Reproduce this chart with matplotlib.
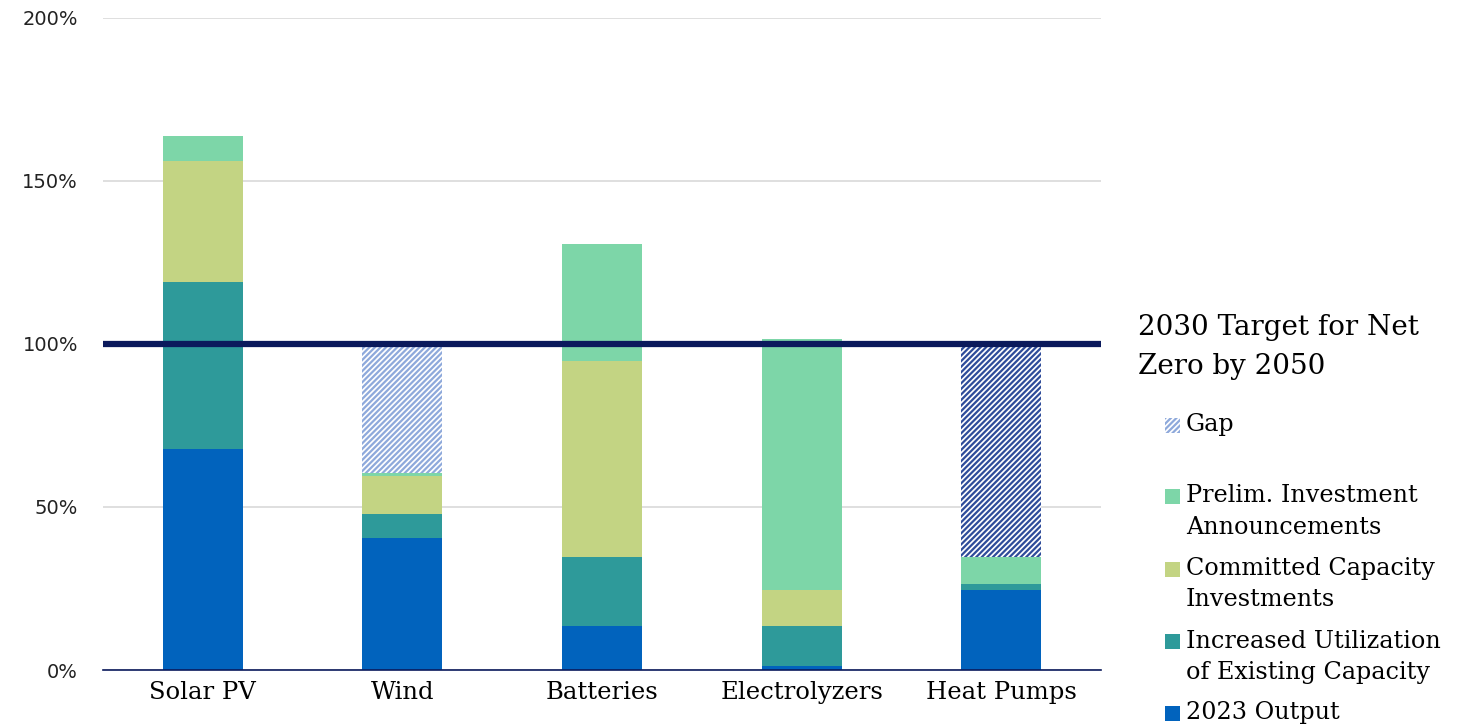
import numpy as np
import matplotlib
matplotlib.use("Agg")
import matplotlib.pyplot as plt
from matplotlib.patches import Rectangle

# data (% of 2030 net-zero target)
categories = ["Solar PV", "Wind", "Batteries", "Electrolyzers", "Heat Pumps"]
output_2023 = [67.8, 40.5, 13.5, 1.2, 24.5]
increased_util = [51.2, 7.4, 21.2, 12.3, 1.9]
committed = [37.0, 11.6, 60.1, 11.0, 0.0]
prelim = [7.8, 0.9, 35.9, 77.0, 8.3]
gap = [0.0, 39.6, 0.0, 0.0, 65.3]
gap_colors = ["#8EA9DB", "#8EA9DB", "#8EA9DB", "#8EA9DB", "#2E4C9A"]
target = 100
legend_title = ["2030 Target for Net", "Zero by 2050"]

c_out = "#0163BD"
c_util = "#2E9A9A"
c_comm = "#C3D483"
c_pre = "#7DD6A8"
navy = "#0B1A5C"
serif = "DejaVu Serif"

plt.rcParams["hatch.linewidth"] = 1.6

W, H = 1471, 728
fig = plt.figure(figsize=(W / 100, H / 100), dpi=100)
ax = fig.add_axes([103 / W, 58 / H, 998 / W, 652 / H])

x = np.arange(len(categories))
w = 0.4
b = np.zeros(len(categories))
ax.bar(x, output_2023, w, bottom=b, color=c_out, zorder=3)
b += output_2023
ax.bar(x, increased_util, w, bottom=b, color=c_util, zorder=3)
b += increased_util
ax.bar(x, committed, w, bottom=b, color=c_comm, zorder=3)
b += committed
ax.bar(x, prelim, w, bottom=b, color=c_pre, zorder=3)
b += prelim
for i in range(len(categories)):
    if gap[i] > 0:
        ax.bar(x[i], gap[i], w, bottom=b[i], color="white",
               edgecolor=gap_colors[i], hatch="//////", linewidth=0, zorder=3)

ax.axhline(target, color=navy, lw=4.5, zorder=4)

ax.set_xlim(-0.5, len(categories) - 0.5)
ax.set_ylim(0, 200)
ax.set_yticks([0, 50, 100, 150, 200])
ax.set_yticklabels([f"{v}%" for v in [0, 50, 100, 150, 200]],
                   fontsize=14, family="DejaVu Sans", color="#222222")
ax.set_xticks(x)
ax.set_xticklabels(categories, fontsize=17.5, family=serif)
ax.tick_params(axis="both", length=0)
ax.tick_params(axis="y", pad=18)
ax.tick_params(axis="x", pad=8)
ax.grid(axis="y", color="#D9D9D9", lw=1.2, zorder=0)
for s in ["top", "right", "left"]:
    ax.spines[s].set_visible(False)
ax.spines["bottom"].set_color(navy)
ax.spines["bottom"].set_linewidth(1.2)
ax.spines["bottom"].set_zorder(5)


# legend, placed by hand in pixel coordinates
def px(xp, yp):
    return xp / W, 1 - yp / H


fig.text(*px(1138, 328), legend_title[0], family=serif, fontsize=20, va="center")
fig.text(*px(1138, 367), legend_title[1], family=serif, fontsize=20, va="center")

entries = [
    (["Gap"], "gap", 425),
    (["Prelim. Investment", "Announcements"], c_pre, 496),
    (["Committed Capacity", "Investments"], c_comm, 569),
    (["Increased Utilization", "of Existing Capacity"], c_util, 641),
    (["2023 Output"], c_out, 713),
]
for lines, col, yc in entries:
    x0, y0 = px(1165, yc + 7.5)
    if col == "gap":
        r = Rectangle((x0, y0), 15 / W, 15 / H, transform=fig.transFigure,
                      facecolor="white", edgecolor=gap_colors[0], hatch="//////",
                      linewidth=0)
    else:
        r = Rectangle((x0, y0), 15 / W, 15 / H, transform=fig.transFigure,
                      facecolor=col, linewidth=0)
    fig.patches.append(r)
    for k, line in enumerate(lines):
        fig.text(*px(1186, yc + 31 * k), line, family=serif, fontsize=17.2,
                 va="center")

fig.savefig("out.png", dpi=100)
